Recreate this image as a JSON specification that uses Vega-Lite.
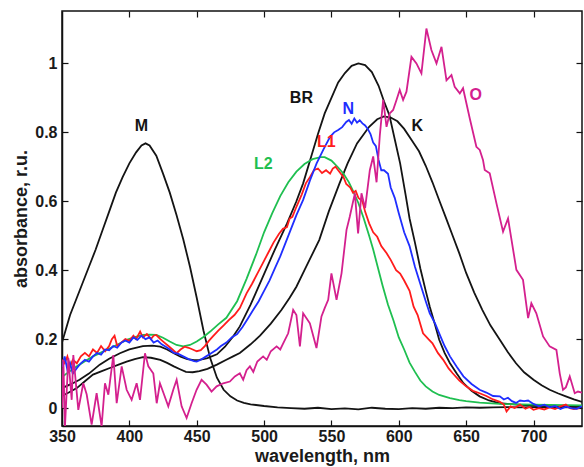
{
  "$schema": "https://vega.github.io/schema/vega-lite/v6.json",
  "autosize": "none",
  "width": 520,
  "height": 415,
  "padding": {"left": 62, "top": 11, "right": 2, "bottom": 41},
  "background": "white",
  "config": {
    "view": {"stroke": "#111", "strokeWidth": 1.5},
    "font": "Liberation Sans",
    "axis": {"grid": false, "domainColor": "#111", "domainWidth": 1.5, "tickColor": "#111", "tickWidth": 1.2, "labelFont": "Liberation Sans", "labelFontWeight": "bold", "labelFontSize": 16, "labelColor": "#1a1a1a", "titleFont": "Liberation Sans", "titleFontWeight": "bold", "titleFontSize": 18, "titleColor": "#1a1a1a"}
  },
  "datasets": {
    "lines": [
      {"s":"M","w":350,"a":0.19},{"s":"M","w":353,"a":0.23},{"s":"M","w":356,"a":0.27},{"s":"M","w":360,"a":0.31},{"s":"M","w":365,"a":0.36},{"s":"M","w":370,"a":0.41},{"s":"M","w":375,"a":0.46},{"s":"M","w":380,"a":0.515},{"s":"M","w":385,"a":0.57},{"s":"M","w":390,"a":0.625},{"s":"M","w":395,"a":0.67},{"s":"M","w":400,"a":0.71},{"s":"M","w":405,"a":0.742},{"s":"M","w":409,"a":0.762},{"s":"M","w":412,"a":0.768},{"s":"M","w":415,"a":0.762},{"s":"M","w":420,"a":0.732},{"s":"M","w":425,"a":0.68},{"s":"M","w":430,"a":0.625},{"s":"M","w":435,"a":0.56},{"s":"M","w":440,"a":0.49},{"s":"M","w":445,"a":0.41},{"s":"M","w":450,"a":0.32},{"s":"M","w":455,"a":0.225},{"s":"M","w":460,"a":0.145},{"s":"M","w":465,"a":0.088},{"s":"M","w":470,"a":0.053},{"s":"M","w":475,"a":0.034},{"s":"M","w":480,"a":0.022},{"s":"M","w":485,"a":0.015},{"s":"M","w":490,"a":0.011},{"s":"M","w":500,"a":0.006},{"s":"M","w":510,"a":0.002},{"s":"M","w":520,"a":0.0},{"s":"M","w":530,"a":-0.002},{"s":"M","w":540,"a":0.001},{"s":"M","w":550,"a":-0.003},{"s":"M","w":560,"a":-0.001},{"s":"M","w":570,"a":-0.004},{"s":"M","w":580,"a":0.001},{"s":"M","w":590,"a":-0.002},{"s":"M","w":600,"a":-0.003},{"s":"M","w":610,"a":0.0},{"s":"M","w":620,"a":-0.002},{"s":"M","w":630,"a":0.001},{"s":"M","w":640,"a":0.0},{"s":"M","w":650,"a":0.002},{"s":"M","w":660,"a":0.001},{"s":"M","w":670,"a":0.002},{"s":"M","w":680,"a":0.003},{"s":"M","w":690,"a":0.002},{"s":"M","w":700,"a":0.003},{"s":"M","w":710,"a":0.003},{"s":"M","w":720,"a":0.002},{"s":"M","w":736,"a":0.003},

      {"s":"K","w":350,"a":0.035},{"s":"K","w":355,"a":0.045},{"s":"K","w":361,"a":0.058},{"s":"K","w":367,"a":0.078},{"s":"K","w":373,"a":0.097},{"s":"K","w":380,"a":0.108},{"s":"K","w":386,"a":0.117},{"s":"K","w":392,"a":0.126},{"s":"K","w":398,"a":0.135},{"s":"K","w":404,"a":0.142},{"s":"K","w":410,"a":0.148},{"s":"K","w":416,"a":0.146},{"s":"K","w":423,"a":0.14},{"s":"K","w":428,"a":0.131},{"s":"K","w":433,"a":0.121},{"s":"K","w":438,"a":0.112},{"s":"K","w":442,"a":0.105},{"s":"K","w":447,"a":0.104},{"s":"K","w":452,"a":0.107},{"s":"K","w":458,"a":0.114},{"s":"K","w":465,"a":0.126},{"s":"K","w":472,"a":0.14},{"s":"K","w":477,"a":0.15},{"s":"K","w":482,"a":0.16},{"s":"K","w":490,"a":0.185},{"s":"K","w":497,"a":0.21},{"s":"K","w":505,"a":0.245},{"s":"K","w":513,"a":0.285},{"s":"K","w":519,"a":0.32},{"s":"K","w":524,"a":0.352},{"s":"K","w":530,"a":0.4},{"s":"K","w":535,"a":0.44},{"s":"K","w":541,"a":0.488},{"s":"K","w":548,"a":0.57},{"s":"K","w":556,"a":0.652},{"s":"K","w":562,"a":0.71},{"s":"K","w":569,"a":0.768},{"s":"K","w":578,"a":0.816},{"s":"K","w":584,"a":0.838},{"s":"K","w":589,"a":0.846},{"s":"K","w":594,"a":0.843},{"s":"K","w":599,"a":0.832},{"s":"K","w":604,"a":0.81},{"s":"K","w":610,"a":0.775},{"s":"K","w":615,"a":0.745},{"s":"K","w":620,"a":0.703},{"s":"K","w":625,"a":0.655},{"s":"K","w":630,"a":0.603},{"s":"K","w":635,"a":0.552},{"s":"K","w":640,"a":0.5},{"s":"K","w":645,"a":0.448},{"s":"K","w":650,"a":0.392},{"s":"K","w":656,"a":0.335},{"s":"K","w":662,"a":0.285},{"s":"K","w":668,"a":0.24},{"s":"K","w":675,"a":0.198},{"s":"K","w":681,"a":0.162},{"s":"K","w":687,"a":0.13},{"s":"K","w":693,"a":0.104},{"s":"K","w":700,"a":0.082},{"s":"K","w":706,"a":0.066},{"s":"K","w":712,"a":0.053},{"s":"K","w":718,"a":0.043},{"s":"K","w":724,"a":0.034},{"s":"K","w":730,"a":0.025},{"s":"K","w":736,"a":0.018},

      {"s":"BR","w":350,"a":0.058},{"s":"BR","w":357,"a":0.07},{"s":"BR","w":363,"a":0.082},{"s":"BR","w":370,"a":0.1},{"s":"BR","w":378,"a":0.126},{"s":"BR","w":385,"a":0.143},{"s":"BR","w":393,"a":0.159},{"s":"BR","w":400,"a":0.17},{"s":"BR","w":410,"a":0.18},{"s":"BR","w":417,"a":0.181},{"s":"BR","w":423,"a":0.178},{"s":"BR","w":428,"a":0.17},{"s":"BR","w":433,"a":0.159},{"s":"BR","w":438,"a":0.149},{"s":"BR","w":443,"a":0.142},{"s":"BR","w":448,"a":0.139},{"s":"BR","w":452,"a":0.14},{"s":"BR","w":458,"a":0.145},{"s":"BR","w":465,"a":0.156},{"s":"BR","w":471,"a":0.178},{"s":"BR","w":477,"a":0.208},{"s":"BR","w":482,"a":0.237},{"s":"BR","w":490,"a":0.3},{"s":"BR","w":499,"a":0.38},{"s":"BR","w":508,"a":0.46},{"s":"BR","w":517,"a":0.535},{"s":"BR","w":524,"a":0.6},{"s":"BR","w":529,"a":0.652},{"s":"BR","w":535,"a":0.73},{"s":"BR","w":540,"a":0.795},{"s":"BR","w":545,"a":0.855},{"s":"BR","w":550,"a":0.9},{"s":"BR","w":555,"a":0.945},{"s":"BR","w":560,"a":0.972},{"s":"BR","w":565,"a":0.993},{"s":"BR","w":570,"a":1.0},{"s":"BR","w":575,"a":0.995},{"s":"BR","w":580,"a":0.975},{"s":"BR","w":585,"a":0.935},{"s":"BR","w":589,"a":0.89},{"s":"BR","w":593,"a":0.85},{"s":"BR","w":597,"a":0.78},{"s":"BR","w":601,"a":0.71},{"s":"BR","w":605,"a":0.62},{"s":"BR","w":608,"a":0.55},{"s":"BR","w":612,"a":0.48},{"s":"BR","w":616,"a":0.405},{"s":"BR","w":620,"a":0.34},{"s":"BR","w":623,"a":0.294},{"s":"BR","w":627,"a":0.24},{"s":"BR","w":630,"a":0.198},{"s":"BR","w":634,"a":0.16},{"s":"BR","w":638,"a":0.13},{"s":"BR","w":643,"a":0.1},{"s":"BR","w":648,"a":0.072},{"s":"BR","w":654,"a":0.05},{"s":"BR","w":660,"a":0.034},{"s":"BR","w":667,"a":0.022},{"s":"BR","w":675,"a":0.014},{"s":"BR","w":688,"a":0.01},{"s":"BR","w":700,"a":0.007},{"s":"BR","w":720,"a":0.005},{"s":"BR","w":736,"a":0.005},

      {"s":"L2","w":350,"a":0.09},{"s":"L2","w":355,"a":0.105},{"s":"L2","w":361,"a":0.121},{"s":"L2","w":367,"a":0.136},{"s":"L2","w":373,"a":0.15},{"s":"L2","w":380,"a":0.163},{"s":"L2","w":386,"a":0.174},{"s":"L2","w":392,"a":0.186},{"s":"L2","w":398,"a":0.198},{"s":"L2","w":404,"a":0.206},{"s":"L2","w":410,"a":0.212},{"s":"L2","w":415,"a":0.213},{"s":"L2","w":420,"a":0.212},{"s":"L2","w":425,"a":0.204},{"s":"L2","w":430,"a":0.193},{"s":"L2","w":435,"a":0.183},{"s":"L2","w":440,"a":0.179},{"s":"L2","w":445,"a":0.183},{"s":"L2","w":450,"a":0.193},{"s":"L2","w":455,"a":0.206},{"s":"L2","w":460,"a":0.222},{"s":"L2","w":466,"a":0.243},{"s":"L2","w":472,"a":0.262},{"s":"L2","w":480,"a":0.31},{"s":"L2","w":487,"a":0.375},{"s":"L2","w":494,"a":0.445},{"s":"L2","w":500,"a":0.51},{"s":"L2","w":506,"a":0.565},{"s":"L2","w":512,"a":0.615},{"s":"L2","w":518,"a":0.655},{"s":"L2","w":524,"a":0.686},{"s":"L2","w":530,"a":0.708},{"s":"L2","w":536,"a":0.722},{"s":"L2","w":542,"a":0.728},{"s":"L2","w":545,"a":0.728},{"s":"L2","w":550,"a":0.718},{"s":"L2","w":555,"a":0.698},{"s":"L2","w":559,"a":0.68},{"s":"L2","w":563,"a":0.655},{"s":"L2","w":566,"a":0.63},{"s":"L2","w":570,"a":0.595},{"s":"L2","w":574,"a":0.55},{"s":"L2","w":578,"a":0.5},{"s":"L2","w":581,"a":0.46},{"s":"L2","w":585,"a":0.4},{"s":"L2","w":588,"a":0.355},{"s":"L2","w":592,"a":0.3},{"s":"L2","w":596,"a":0.255},{"s":"L2","w":600,"a":0.205},{"s":"L2","w":604,"a":0.17},{"s":"L2","w":608,"a":0.132},{"s":"L2","w":612,"a":0.105},{"s":"L2","w":616,"a":0.08},{"s":"L2","w":620,"a":0.063},{"s":"L2","w":625,"a":0.048},{"s":"L2","w":630,"a":0.038},{"s":"L2","w":638,"a":0.029},{"s":"L2","w":645,"a":0.023},{"s":"L2","w":650,"a":0.02},{"s":"L2","w":660,"a":0.016},{"s":"L2","w":675,"a":0.012},{"s":"L2","w":700,"a":0.01},{"s":"L2","w":736,"a":0.008},

      {"s":"L1","w":350,"a":0.14},{"s":"L1","w":352,"a":0.13},{"s":"L1","w":354,"a":0.15},{"s":"L1","w":356,"a":0.12},{"s":"L1","w":358,"a":0.14},{"s":"L1","w":361,"a":0.13},{"s":"L1","w":364,"a":0.15},{"s":"L1","w":367,"a":0.16},{"s":"L1","w":370,"a":0.15},{"s":"L1","w":373,"a":0.17},{"s":"L1","w":376,"a":0.16},{"s":"L1","w":379,"a":0.18},{"s":"L1","w":382,"a":0.165},{"s":"L1","w":385,"a":0.18},{"s":"L1","w":387,"a":0.2},{"s":"L1","w":389,"a":0.21},{"s":"L1","w":391,"a":0.18},{"s":"L1","w":394,"a":0.19},{"s":"L1","w":397,"a":0.2},{"s":"L1","w":400,"a":0.195},{"s":"L1","w":403,"a":0.21},{"s":"L1","w":405,"a":0.2},{"s":"L1","w":408,"a":0.222},{"s":"L1","w":410,"a":0.205},{"s":"L1","w":413,"a":0.215},{"s":"L1","w":416,"a":0.2},{"s":"L1","w":418,"a":0.21},{"s":"L1","w":420,"a":0.212},{"s":"L1","w":423,"a":0.2},{"s":"L1","w":426,"a":0.19},{"s":"L1","w":429,"a":0.18},{"s":"L1","w":432,"a":0.17},{"s":"L1","w":435,"a":0.159},{"s":"L1","w":438,"a":0.17},{"s":"L1","w":441,"a":0.178},{"s":"L1","w":444,"a":0.175},{"s":"L1","w":447,"a":0.17},{"s":"L1","w":450,"a":0.165},{"s":"L1","w":453,"a":0.168},{"s":"L1","w":456,"a":0.18},{"s":"L1","w":459,"a":0.195},{"s":"L1","w":462,"a":0.208},{"s":"L1","w":466,"a":0.225},{"s":"L1","w":470,"a":0.24},{"s":"L1","w":474,"a":0.256},{"s":"L1","w":478,"a":0.27},{"s":"L1","w":482,"a":0.29},{"s":"L1","w":487,"a":0.333},{"s":"L1","w":491,"a":0.36},{"s":"L1","w":495,"a":0.39},{"s":"L1","w":499,"a":0.42},{"s":"L1","w":503,"a":0.45},{"s":"L1","w":507,"a":0.48},{"s":"L1","w":511,"a":0.505},{"s":"L1","w":514,"a":0.52},{"s":"L1","w":517,"a":0.525},{"s":"L1","w":519,"a":0.55},{"s":"L1","w":521,"a":0.555},{"s":"L1","w":524,"a":0.584},{"s":"L1","w":528,"a":0.62},{"s":"L1","w":531,"a":0.652},{"s":"L1","w":534,"a":0.67},{"s":"L1","w":537,"a":0.69},{"s":"L1","w":540,"a":0.695},{"s":"L1","w":543,"a":0.682},{"s":"L1","w":546,"a":0.69},{"s":"L1","w":549,"a":0.68},{"s":"L1","w":551,"a":0.695},{"s":"L1","w":553,"a":0.7},{"s":"L1","w":556,"a":0.685},{"s":"L1","w":559,"a":0.67},{"s":"L1","w":561,"a":0.65},{"s":"L1","w":564,"a":0.64},{"s":"L1","w":566,"a":0.625},{"s":"L1","w":568,"a":0.63},{"s":"L1","w":570,"a":0.61},{"s":"L1","w":573,"a":0.6},{"s":"L1","w":575,"a":0.57},{"s":"L1","w":578,"a":0.536},{"s":"L1","w":581,"a":0.51},{"s":"L1","w":584,"a":0.497},{"s":"L1","w":587,"a":0.47},{"s":"L1","w":591,"a":0.449},{"s":"L1","w":594,"a":0.43},{"s":"L1","w":598,"a":0.4},{"s":"L1","w":601,"a":0.39},{"s":"L1","w":604,"a":0.37},{"s":"L1","w":608,"a":0.34},{"s":"L1","w":611,"a":0.294},{"s":"L1","w":614,"a":0.27},{"s":"L1","w":618,"a":0.217},{"s":"L1","w":622,"a":0.2},{"s":"L1","w":625,"a":0.188},{"s":"L1","w":629,"a":0.16},{"s":"L1","w":633,"a":0.14},{"s":"L1","w":637,"a":0.115},{"s":"L1","w":640,"a":0.101},{"s":"L1","w":645,"a":0.08},{"s":"L1","w":650,"a":0.063},{"s":"L1","w":655,"a":0.05},{"s":"L1","w":660,"a":0.043},{"s":"L1","w":665,"a":0.035},{"s":"L1","w":670,"a":0.025},{"s":"L1","w":675,"a":0.018},{"s":"L1","w":678,"a":0.01},{"s":"L1","w":680,"a":-0.01},{"s":"L1","w":683,"a":0.005},{"s":"L1","w":686,"a":0.0},{"s":"L1","w":690,"a":0.01},{"s":"L1","w":694,"a":-0.002},{"s":"L1","w":697,"a":0.003},{"s":"L1","w":700,"a":-0.005},{"s":"L1","w":704,"a":0.0},{"s":"L1","w":708,"a":-0.004},{"s":"L1","w":712,"a":0.002},{"s":"L1","w":716,"a":-0.003},{"s":"L1","w":720,"a":0.005},{"s":"L1","w":724,"a":0.01},{"s":"L1","w":727,"a":0.0},{"s":"L1","w":730,"a":-0.003},{"s":"L1","w":734,"a":0.0},

      {"s":"N","w":350,"a":0.12},{"s":"N","w":352,"a":0.15},{"s":"N","w":354,"a":0.11},{"s":"N","w":356,"a":0.13},{"s":"N","w":358,"a":0.1},{"s":"N","w":361,"a":0.116},{"s":"N","w":364,"a":0.13},{"s":"N","w":367,"a":0.14},{"s":"N","w":370,"a":0.135},{"s":"N","w":373,"a":0.15},{"s":"N","w":376,"a":0.16},{"s":"N","w":379,"a":0.155},{"s":"N","w":382,"a":0.17},{"s":"N","w":385,"a":0.168},{"s":"N","w":388,"a":0.18},{"s":"N","w":391,"a":0.175},{"s":"N","w":394,"a":0.19},{"s":"N","w":397,"a":0.196},{"s":"N","w":400,"a":0.19},{"s":"N","w":403,"a":0.205},{"s":"N","w":406,"a":0.198},{"s":"N","w":409,"a":0.21},{"s":"N","w":412,"a":0.2},{"s":"N","w":415,"a":0.205},{"s":"N","w":418,"a":0.19},{"s":"N","w":421,"a":0.196},{"s":"N","w":424,"a":0.185},{"s":"N","w":427,"a":0.178},{"s":"N","w":430,"a":0.17},{"s":"N","w":433,"a":0.16},{"s":"N","w":436,"a":0.158},{"s":"N","w":440,"a":0.15},{"s":"N","w":444,"a":0.142},{"s":"N","w":448,"a":0.136},{"s":"N","w":450,"a":0.135},{"s":"N","w":453,"a":0.14},{"s":"N","w":457,"a":0.15},{"s":"N","w":461,"a":0.16},{"s":"N","w":465,"a":0.17},{"s":"N","w":468,"a":0.18},{"s":"N","w":472,"a":0.19},{"s":"N","w":476,"a":0.205},{"s":"N","w":480,"a":0.215},{"s":"N","w":484,"a":0.235},{"s":"N","w":488,"a":0.26},{"s":"N","w":492,"a":0.285},{"s":"N","w":496,"a":0.31},{"s":"N","w":500,"a":0.34},{"s":"N","w":504,"a":0.37},{"s":"N","w":508,"a":0.405},{"s":"N","w":512,"a":0.44},{"s":"N","w":516,"a":0.48},{"s":"N","w":520,"a":0.52},{"s":"N","w":524,"a":0.56},{"s":"N","w":529,"a":0.604},{"s":"N","w":534,"a":0.66},{"s":"N","w":539,"a":0.71},{"s":"N","w":544,"a":0.75},{"s":"N","w":549,"a":0.787},{"s":"N","w":552,"a":0.8},{"s":"N","w":555,"a":0.807},{"s":"N","w":558,"a":0.815},{"s":"N","w":561,"a":0.83},{"s":"N","w":563,"a":0.836},{"s":"N","w":565,"a":0.825},{"s":"N","w":567,"a":0.84},{"s":"N","w":569,"a":0.828},{"s":"N","w":571,"a":0.835},{"s":"N","w":573,"a":0.826},{"s":"N","w":575,"a":0.82},{"s":"N","w":577,"a":0.81},{"s":"N","w":579,"a":0.795},{"s":"N","w":581,"a":0.77},{"s":"N","w":583,"a":0.76},{"s":"N","w":585,"a":0.72},{"s":"N","w":587,"a":0.69},{"s":"N","w":589,"a":0.69},{"s":"N","w":592,"a":0.68},{"s":"N","w":594,"a":0.64},{"s":"N","w":597,"a":0.61},{"s":"N","w":600,"a":0.565},{"s":"N","w":604,"a":0.51},{"s":"N","w":608,"a":0.47},{"s":"N","w":612,"a":0.41},{"s":"N","w":616,"a":0.36},{"s":"N","w":620,"a":0.31},{"s":"N","w":623,"a":0.275},{"s":"N","w":627,"a":0.245},{"s":"N","w":630,"a":0.217},{"s":"N","w":634,"a":0.18},{"s":"N","w":638,"a":0.15},{"s":"N","w":643,"a":0.12},{"s":"N","w":648,"a":0.092},{"s":"N","w":654,"a":0.07},{"s":"N","w":660,"a":0.053},{"s":"N","w":665,"a":0.045},{"s":"N","w":670,"a":0.035},{"s":"N","w":675,"a":0.034},{"s":"N","w":678,"a":0.025},{"s":"N","w":681,"a":0.03},{"s":"N","w":684,"a":0.02},{"s":"N","w":687,"a":0.015},{"s":"N","w":690,"a":0.022},{"s":"N","w":693,"a":0.02},{"s":"N","w":696,"a":0.022},{"s":"N","w":700,"a":0.012},{"s":"N","w":704,"a":0.005},{"s":"N","w":708,"a":0.01},{"s":"N","w":712,"a":0.002},{"s":"N","w":716,"a":0.006},{"s":"N","w":720,"a":-0.003},{"s":"N","w":724,"a":0.004},{"s":"N","w":728,"a":0.0},{"s":"N","w":732,"a":-0.002},{"s":"N","w":736,"a":0.005},

      {"s":"O","w":350,"a":0.0},{"s":"O","w":351,"a":0.14},{"s":"O","w":352.2,"a":-0.054},{"s":"O","w":354.7,"a":0.145},{"s":"O","w":357.2,"a":0.024},{"s":"O","w":358.4,"a":0.154},{"s":"O","w":362.1,"a":-0.005},{"s":"O","w":365.8,"a":0.072},{"s":"O","w":368.3,"a":0.04},{"s":"O","w":372,"a":-0.048},{"s":"O","w":375.7,"a":0.043},{"s":"O","w":379.4,"a":-0.053},{"s":"O","w":381.9,"a":0.072},{"s":"O","w":384.4,"a":0.039},{"s":"O","w":388.1,"a":0.154},{"s":"O","w":390.6,"a":0.014},{"s":"O","w":394.3,"a":0.121},{"s":"O","w":398,"a":0.053},{"s":"O","w":401.7,"a":0.024},{"s":"O","w":405.4,"a":0.072},{"s":"O","w":407.9,"a":0.024},{"s":"O","w":411.6,"a":0.159},{"s":"O","w":414.1,"a":0.121},{"s":"O","w":417.8,"a":0.1},{"s":"O","w":420.3,"a":0.014},{"s":"O","w":422.7,"a":0.072},{"s":"O","w":425.2,"a":0.045},{"s":"O","w":428.9,"a":0.005},{"s":"O","w":432.6,"a":0.053},{"s":"O","w":435.1,"a":0.082},{"s":"O","w":438.8,"a":0.005},{"s":"O","w":442.5,"a":-0.029},{"s":"O","w":446.2,"a":0.014},{"s":"O","w":449.9,"a":0.053},{"s":"O","w":453.6,"a":0.082},{"s":"O","w":457.3,"a":0.068},{"s":"O","w":461,"a":0.048},{"s":"O","w":464.8,"a":0.063},{"s":"O","w":469.7,"a":0.072},{"s":"O","w":474.6,"a":0.077},{"s":"O","w":478.3,"a":0.092},{"s":"O","w":482,"a":0.101},{"s":"O","w":484.5,"a":0.082},{"s":"O","w":487,"a":0.11},{"s":"O","w":489.5,"a":0.121},{"s":"O","w":492,"a":0.105},{"s":"O","w":495,"a":0.135},{"s":"O","w":499.3,"a":0.15},{"s":"O","w":502,"a":0.14},{"s":"O","w":505,"a":0.165},{"s":"O","w":509.3,"a":0.179},{"s":"O","w":512,"a":0.17},{"s":"O","w":514.2,"a":0.188},{"s":"O","w":517.9,"a":0.217},{"s":"O","w":521.6,"a":0.285},{"s":"O","w":524,"a":0.27},{"s":"O","w":526.6,"a":0.179},{"s":"O","w":529,"a":0.275},{"s":"O","w":534,"a":0.246},{"s":"O","w":538.9,"a":0.174},{"s":"O","w":542.6,"a":0.266},{"s":"O","w":545,"a":0.29},{"s":"O","w":547.6,"a":0.314},{"s":"O","w":550,"a":0.391},{"s":"O","w":553.8,"a":0.314},{"s":"O","w":557.5,"a":0.391},{"s":"O","w":561.2,"a":0.517},{"s":"O","w":563.6,"a":0.555},{"s":"O","w":567.4,"a":0.623},{"s":"O","w":569.8,"a":0.507},{"s":"O","w":572.3,"a":0.623},{"s":"O","w":575,"a":0.58},{"s":"O","w":578.5,"a":0.69},{"s":"O","w":581,"a":0.73},{"s":"O","w":583.5,"a":0.655},{"s":"O","w":585.9,"a":0.79},{"s":"O","w":588.4,"a":0.894},{"s":"O","w":590.9,"a":0.816},{"s":"O","w":593.3,"a":0.855},{"s":"O","w":595.8,"a":0.865},{"s":"O","w":598.3,"a":0.894},{"s":"O","w":600.7,"a":0.923},{"s":"O","w":603.2,"a":0.894},{"s":"O","w":605.7,"a":0.918},{"s":"O","w":609.4,"a":1.019},{"s":"O","w":613.1,"a":1.0},{"s":"O","w":616.8,"a":0.971},{"s":"O","w":620.5,"a":1.101},{"s":"O","w":624.2,"a":1.039},{"s":"O","w":628,"a":1.0},{"s":"O","w":631.7,"a":1.048},{"s":"O","w":635.4,"a":0.951},{"s":"O","w":639.1,"a":0.966},{"s":"O","w":641.5,"a":0.932},{"s":"O","w":645.3,"a":0.913},{"s":"O","w":647.7,"a":0.928},{"s":"O","w":652.7,"a":0.84},{"s":"O","w":657.6,"a":0.758},{"s":"O","w":660.1,"a":0.749},{"s":"O","w":662.5,"a":0.72},{"s":"O","w":663.8,"a":0.691},{"s":"O","w":667.5,"a":0.681},{"s":"O","w":672.5,"a":0.594},{"s":"O","w":677.4,"a":0.512},{"s":"O","w":681.1,"a":0.55},{"s":"O","w":687.3,"a":0.401},{"s":"O","w":692.2,"a":0.372},{"s":"O","w":696,"a":0.261},{"s":"O","w":698.4,"a":0.304},{"s":"O","w":702.1,"a":0.275},{"s":"O","w":707.1,"a":0.208},{"s":"O","w":712,"a":0.179},{"s":"O","w":717,"a":0.169},{"s":"O","w":719.5,"a":0.1},{"s":"O","w":721.9,"a":0.053},{"s":"O","w":724,"a":0.06},{"s":"O","w":726.9,"a":0.092},{"s":"O","w":730.6,"a":0.043},{"s":"O","w":733,"a":0.048},{"s":"O","w":736,"a":0.045}
    ],
    "labels": [
      {"s":"M","t":"M","w":409,"a":0.818},
      {"s":"BR","t":"BR","w":527.7,"a":0.901},
      {"s":"N","t":"N","w":562.5,"a":0.868},
      {"s":"L1","t":"L1","w":546.2,"a":0.772},
      {"s":"L2","t":"L2","w":499.5,"a":0.708},
      {"s":"K","t":"K","w":613.7,"a":0.818},
      {"s":"O","t":"O","w":657.1,"a":0.908}
    ]
  },
  "layer": [
    {
      "mark": {"type": "rule", "color": "#b0b0b0", "strokeWidth": 1.5},
      "encoding": {"y": {"datum": 0, "type": "quantitative", "axis": null}}
    },
    {
      "data": {"name": "lines"},
      "mark": {"type": "line", "strokeWidth": 1.8, "clip": true},
      "encoding": {
        "x": {"field": "w", "type": "quantitative", "scale": {"domain": [350, 736], "nice": false, "zero": false},
              "axis": {"orient": "bottom", "title": "wavelength, nm", "values": [350,400,450,500,550,600,650,700], "tickSize": -6, "labelPadding": 8, "titlePadding": 3, "labelFlush": false}},
        "y": {"field": "a", "type": "quantitative", "scale": {"domain": [-0.052, 1.152], "nice": false, "zero": false},
              "axis": {"orient": "left", "title": "absorbance, r.u.", "values": [0,0.2,0.4,0.6,0.8,1], "format": "~g", "tickSize": -6, "labelPadding": 11, "titlePadding": 4}},
        "color": {"field": "s", "type": "nominal", "legend": null,
                  "scale": {"domain": ["M","K","BR","L2","L1","N","O"], "range": ["#141414","#141414","#141414","#1fbf50","#ff1c1c","#1f2eff","#d4208e"]}},
        "detail": {"field": "s"}
      }
    },
    {
      "data": {"name": "labels"},
      "mark": {"type": "text", "font": "Liberation Sans", "fontWeight": "bold", "fontSize": 16, "align": "center", "baseline": "middle"},
      "encoding": {
        "x": {"field": "w", "type": "quantitative", "axis": {"orient": "top", "title": null, "labels": false, "values": [400,450,500,550,600,650,700], "tickSize": -6, "domain": false}},
        "y": {"field": "a", "type": "quantitative", "axis": {"orient": "right", "title": null, "labels": false, "values": [0,0.2,0.4,0.6,0.8,1], "tickSize": -6, "domain": false}},
        "text": {"field": "t"},
        "color": {"field": "s", "type": "nominal", "legend": null}
      }
    }
  ],
  "resolve": {"axis": {"x": "independent", "y": "independent"}}
}
